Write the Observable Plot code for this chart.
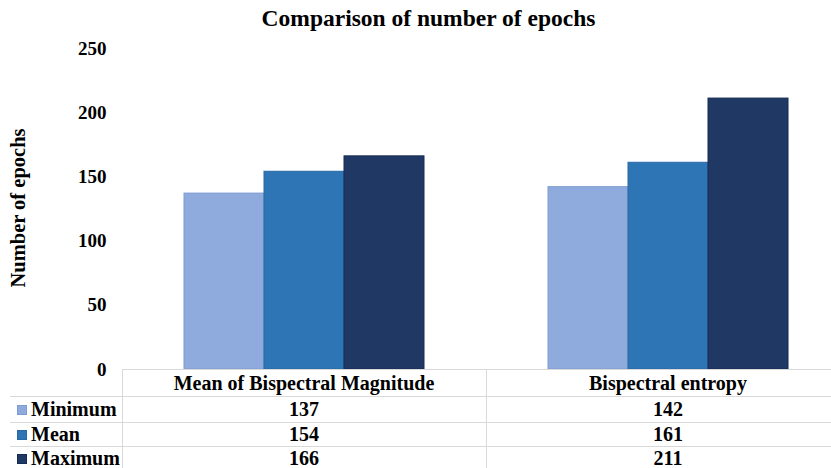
<!DOCTYPE html>
<html><head><meta charset="utf-8">
<script src="https://cdn.jsdelivr.net/npm/d3@7"></script>
<script src="https://cdn.jsdelivr.net/npm/@observablehq/plot@0.6"></script>
<style>
html,body{margin:0;padding:0;background:#fff;overflow:hidden;}
#wrap{position:relative;width:831px;height:468px;overflow:hidden;font-family:"Liberation Serif","Times New Roman",serif;font-weight:bold;color:#000;}
#title{position:absolute;left:0;width:857px;top:4px;text-align:center;font-size:23.5px;line-height:28px;}
#ylabel{position:absolute;left:18px;top:208px;transform:translate(-50%,-50%) rotate(-90deg);font-size:20.5px;white-space:nowrap;}
#chart{position:absolute;left:0;top:0;width:850px;}
#chart svg{max-width:none !important;}
#tbl{position:absolute;left:10px;top:369px;width:840px;border-collapse:collapse;table-layout:fixed;font-size:20px;}
#tbl td{padding:0;text-align:center;border:1px solid #d9d9d9;white-space:nowrap;overflow:hidden;}
#tbl td.lab{text-align:left;border-left:none;padding-left:7px;font-size:20px;}
#tbl td.corner{border:none;border-right:1px solid #d9d9d9;}
.sw{display:inline-block;width:10px;height:10px;margin-right:4px;vertical-align:1px;}
</style></head>
<body>
<div id="wrap">
  <div id="chart"></div>
  <div id="title"></div>
  <div id="ylabel"></div>
  <table id="tbl"></table>
</div>
<script>
const titleText = "Comparison of number of epochs";
const yLabel = "Number of epochs";
const categories = ["Mean of Bispectral Magnitude", "Bispectral entropy"];
const series = ["Minimum", "Mean", "Maximum"];
const minimumValues = [137, 142];
const meanValues = [154, 161];
const maximumValues = [166, 211];
const yTicks = [0, 50, 100, 150, 200, 250];
const fillColors = ["#8FAADC", "#2E75B6", "#203864"];
const strokeColors = ["#7E9BD2", "#2868A6", "#172B52"];

const seriesValues = [minimumValues, meanValues, maximumValues];
const data = categories.flatMap((c, i) => series.map((s, j) => ({cat: c, series: s, value: seriesValues[j][i]})));

document.getElementById("title").textContent = titleText;
document.getElementById("ylabel").textContent = yLabel;

const plot = Plot.plot({
  width: 850, height: 468,
  marginTop: 48, marginBottom: 99, marginLeft: 122, marginRight: 0,
  style: {fontFamily: '"Liberation Serif","Times New Roman",serif', fontWeight: "bold", fontSize: "19px", color: "#000", background: "transparent", maxWidth: "none"},
  fx: {domain: categories, paddingInner: 0, paddingOuter: 0, axis: null, label: null},
  x: {domain: series, paddingInner: 0, paddingOuter: 0.766, axis: null, label: null},
  y: {domain: [0, 250], ticks: yTicks, tickSize: 0, tickPadding: 16, label: null},
  marks: series.map((s, j) => Plot.barY(data.filter(d => d.series === s), {
    fx: "cat", x: "series", y: "value", fill: fillColors[j], stroke: strokeColors[j], strokeWidth: 1
  }))
});
document.getElementById("chart").appendChild(plot);

// data table
const tbl = d3.select("#tbl");
const cg = tbl.append("colgroup");
cg.append("col").style("width", "112px");
categories.forEach(() => cg.append("col").style("width", "364px"));
const head = tbl.append("tr").style("height", "27px");
head.append("td").attr("class", "corner");
categories.forEach(c => head.append("td").text(c));
const rowH = [26, 24, 24];
series.forEach((s, j) => {
  const tr = tbl.append("tr").style("height", rowH[j] + "px");
  const lab = tr.append("td").attr("class", "lab");
  lab.append("span").attr("class", "sw").style("background", fillColors[j]).style("outline", "1px solid " + strokeColors[j]).style("outline-offset", "-1px");
  lab.append("span").text(s);
  seriesValues[j].forEach(v => tr.append("td").text(v));
});
</script>
</body></html>
